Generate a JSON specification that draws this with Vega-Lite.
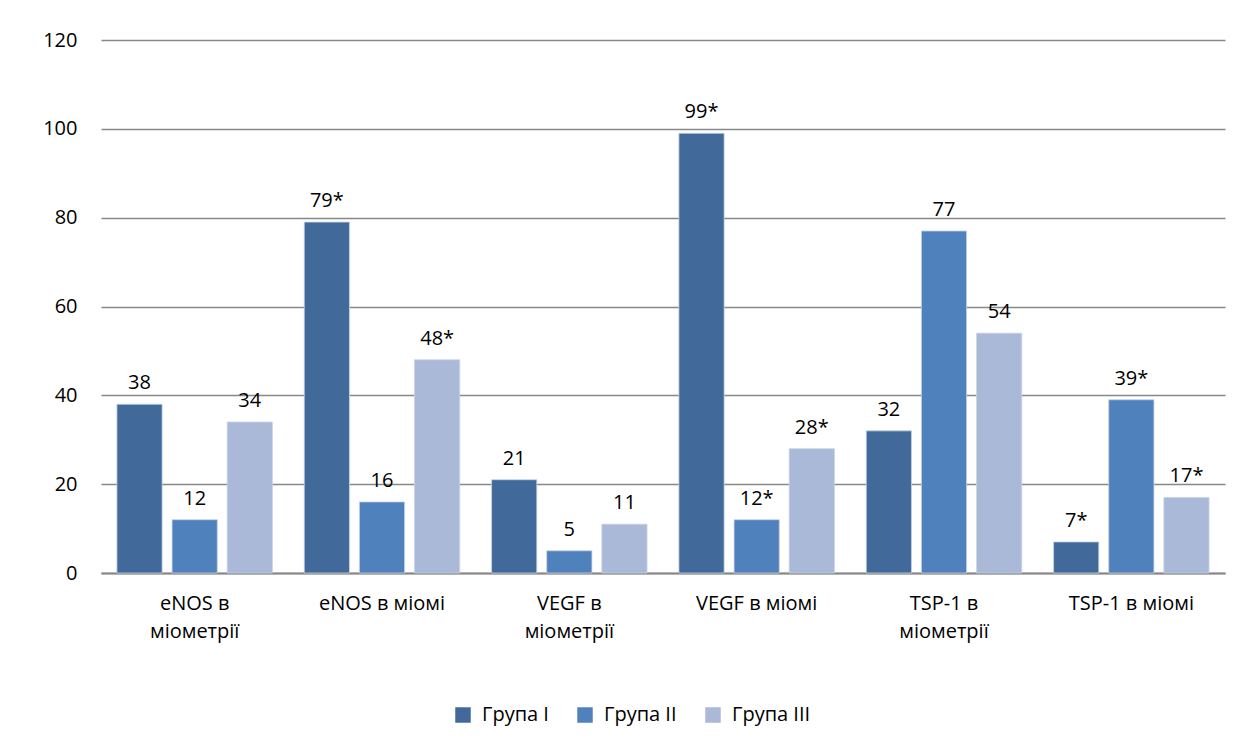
{
  "$schema": "https://vega.github.io/schema/vega-lite/v6.json",
  "width": 1124,
  "height": 533,
  "autosize": {"type": "none"},
  "padding": {"left": 101, "top": 40, "right": 19, "bottom": 178},
  "background": "white",
  "config": {
    "view": {"stroke": null},
    "font": "Open Sans"
  },
  "data": {
    "values": [
      {"category": "eNOS в|міометрії", "group": "Група I", "value": 38, "label": "38"},
      {"category": "eNOS в|міометрії", "group": "Група II", "value": 12, "label": "12"},
      {"category": "eNOS в|міометрії", "group": "Група III", "value": 34, "label": "34"},
      {"category": "eNOS в міомі", "group": "Група I", "value": 79, "label": "79*"},
      {"category": "eNOS в міомі", "group": "Група II", "value": 16, "label": "16"},
      {"category": "eNOS в міомі", "group": "Група III", "value": 48, "label": "48*"},
      {"category": "VEGF в|міометрії", "group": "Група I", "value": 21, "label": "21"},
      {"category": "VEGF в|міометрії", "group": "Група II", "value": 5, "label": "5"},
      {"category": "VEGF в|міометрії", "group": "Група III", "value": 11, "label": "11"},
      {"category": "VEGF в міомі", "group": "Група I", "value": 99, "label": "99*"},
      {"category": "VEGF в міомі", "group": "Група II", "value": 12, "label": "12*"},
      {"category": "VEGF в міомі", "group": "Група III", "value": 28, "label": "28*"},
      {"category": "TSP-1 в|міометрії", "group": "Група I", "value": 32, "label": "32"},
      {"category": "TSP-1 в|міометрії", "group": "Група II", "value": 77, "label": "77"},
      {"category": "TSP-1 в|міометрії", "group": "Група III", "value": 54, "label": "54"},
      {"category": "TSP-1 в міомі", "group": "Група I", "value": 7, "label": "7*"},
      {"category": "TSP-1 в міомі", "group": "Група II", "value": 39, "label": "39*"},
      {"category": "TSP-1 в міомі", "group": "Група III", "value": 17, "label": "17*"}
    ]
  },
  "encoding": {
    "x": {
      "field": "category",
      "type": "nominal",
      "sort": null,
      "scale": {"paddingInner": 0.17, "paddingOuter": 0.085},
      "axis": {
        "title": null,
        "labelAngle": 0,
        "labelExpr": "split(datum.label, '|')",
        "labelFontSize": 20,
        "labelColor": "#000000",
        "labelPadding": 20,
        "labelLineHeight": 28,
        "labelBaseline": "top",
        "ticks": false,
        "domainColor": "#888888",
        "domainWidth": 2
      }
    },
    "xOffset": {
      "field": "group",
      "type": "nominal",
      "sort": ["Група I", "Група II", "Група III"],
      "scale": {"paddingInner": 0.18, "paddingOuter": 0}
    },
    "y": {
      "field": "value",
      "type": "quantitative",
      "scale": {"domain": [0, 120]},
      "axis": {
        "title": null,
        "values": [0, 20, 40, 60, 80, 100, 120],
        "labelFontSize": 20,
        "labelColor": "#000000",
        "labelPadding": 24,
        "ticks": false,
        "domain": false,
        "gridColor": "#888888",
        "gridWidth": 1.5
      }
    }
  },
  "layer": [
    {
      "mark": {"type": "bar", "stroke": "#c8d3e6", "strokeWidth": 0.8},
      "encoding": {
        "color": {
          "field": "group",
          "type": "nominal",
          "sort": ["Група I", "Група II", "Група III"],
          "scale": {
            "domain": ["Група I", "Група II", "Група III"],
            "range": ["#416A9B", "#4F81BD", "#AAB9D7"]
          },
          "legend": {
            "title": null,
            "orient": "none",
            "direction": "horizontal",
            "legendX": 352,
            "legendY": 665,
            "symbolType": "square",
            "symbolSize": 240,
            "symbolStrokeWidth": 0,
            "labelFontSize": 20,
            "labelColor": "#000000",
            "columnPadding": 26,
            "labelOffset": 9
          }
        }
      }
    },
    {
      "mark": {"type": "text", "baseline": "bottom", "dy": -11, "fontSize": 20, "color": "#000000"},
      "encoding": {
        "text": {"field": "label"}
      }
    }
  ]
}
